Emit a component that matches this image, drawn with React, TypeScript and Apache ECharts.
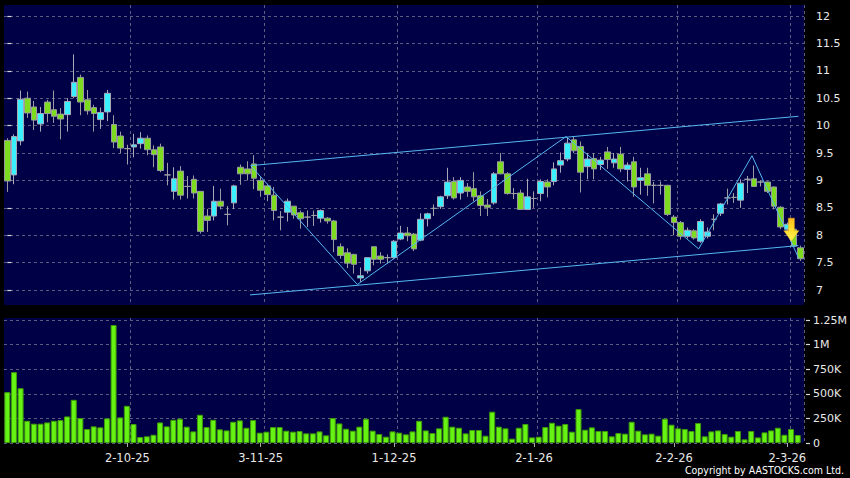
import React, { useEffect, useRef } from "react";
import * as echarts from "echarts";

const dates = [
  "5-9-25","8-9-25","9-9-25","10-9-25","11-9-25","12-9-25","15-9-25","16-9-25","17-9-25","18-9-25",
  "19-9-25","22-9-25","23-9-25","24-9-25","25-9-25","26-9-25","29-9-25","30-9-25",
  "2-10-25","3-10-25","6-10-25","8-10-25","9-10-25","10-10-25","13-10-25","14-10-25","15-10-25","16-10-25",
  "17-10-25","20-10-25","21-10-25","22-10-25","23-10-25","24-10-25","27-10-25","28-10-25","30-10-25","31-10-25",
  "3-11-25","4-11-25","5-11-25","6-11-25","7-11-25","10-11-25","11-11-25","12-11-25","13-11-25","14-11-25",
  "17-11-25","18-11-25","19-11-25","20-11-25","21-11-25","24-11-25","25-11-25","26-11-25","27-11-25","28-11-25",
  "1-12-25","2-12-25","3-12-25","4-12-25","5-12-25","8-12-25","9-12-25","10-12-25","11-12-25","12-12-25",
  "15-12-25","16-12-25","17-12-25","18-12-25","19-12-25","22-12-25","23-12-25","24-12-25","29-12-25","30-12-25","31-12-25",
  "2-1-26","5-1-26","6-1-26","7-1-26","8-1-26","9-1-26","12-1-26","13-1-26","14-1-26","15-1-26",
  "16-1-26","19-1-26","20-1-26","21-1-26","22-1-26","23-1-26","26-1-26","27-1-26","28-1-26","29-1-26","30-1-26",
  "2-2-26","3-2-26","4-2-26","5-2-26","6-2-26","9-2-26","10-2-26","11-2-26","12-2-26","13-2-26",
  "16-2-26","20-2-26","23-2-26","24-2-26","25-2-26","26-2-26","27-2-26",
  "2-3-26","3-3-26","4-3-26"
];

const opens = [
  9.73,9.10,9.72,10.50,10.34,10.03,10.43,10.29,10.21,10.20,
  10.53,10.88,10.47,10.33,10.11,10.25,10.02,9.81,9.58,9.61,
  9.67,9.77,9.56,9.61,9.10,8.80,9.17,8.89,9.02,8.80,
  8.35,8.35,8.62,8.38,8.59,9.24,9.21,9.30,9.00,8.90,
  8.73,8.33,8.42,8.53,8.41,8.33,8.36,8.31,8.31,8.26,
  7.79,7.68,7.65,7.22,7.35,7.79,7.62,7.59,7.59,7.93,
  8.04,8.02,7.91,8.30,8.49,8.52,8.72,8.98,8.77,8.88,
  8.85,8.72,8.55,8.59,9.34,9.12,8.76,8.77,8.47,8.67,
  8.76,8.97,8.98,9.28,9.39,9.74,9.62,9.25,9.40,9.29,
  9.52,9.32,9.48,9.20,9.34,9.00,9.12,8.91,8.91,8.91,
  8.33,8.23,7.98,8.08,7.89,7.98,8.29,8.40,8.68,8.69,
  8.64,9.02,9.03,8.97,8.97,8.88,8.51,8.11,8.11,7.77
];
const closes = [
  8.99,9.80,10.48,10.23,10.10,10.22,10.22,10.17,10.12,10.44,
  10.79,10.43,10.27,10.22,10.24,10.59,9.70,9.59,9.58,9.65,
  9.77,9.56,9.47,9.18,9.10,9.03,8.73,8.89,8.77,8.07,
  8.27,8.62,8.53,8.38,8.90,9.12,9.12,9.04,8.82,8.74,
  8.45,8.33,8.62,8.37,8.30,8.33,8.36,8.45,8.26,7.92,
  7.63,7.49,7.47,7.26,7.59,7.56,7.56,7.59,7.89,8.04,
  7.99,7.75,8.29,8.39,8.49,8.70,8.97,8.68,9.00,8.80,
  8.70,8.54,8.51,9.12,9.12,8.76,8.76,8.47,8.70,8.67,
  8.98,8.88,9.21,9.36,9.68,9.54,9.15,9.39,9.21,9.37,
  9.38,9.39,9.21,9.28,8.88,9.05,8.91,8.91,8.91,8.38,
  8.23,7.98,8.09,7.95,8.25,8.06,8.29,8.57,8.68,8.69,
  8.95,9.02,8.89,8.97,8.80,8.53,8.15,8.20,7.80,7.57
];
const lows = [
  8.79,8.93,9.64,10.14,9.92,9.89,10.06,10.05,9.75,9.89,
  10.50,10.19,10.20,9.89,9.94,10.08,9.59,9.50,9.29,9.42,
  9.58,9.46,9.24,9.15,8.91,8.65,8.65,8.67,8.67,8.03,
  8.06,8.27,8.47,8.18,8.48,8.92,9.00,8.84,8.70,8.62,
  8.27,8.09,8.25,8.30,8.12,8.15,8.17,8.23,8.21,7.69,
  7.57,7.40,7.30,7.15,7.30,7.45,7.48,7.48,7.57,7.91,
  7.89,7.71,7.89,8.16,8.35,8.48,8.66,8.65,8.65,8.70,
  8.62,8.35,8.35,8.56,9.11,8.74,8.66,8.46,8.46,8.50,
  8.62,8.69,8.91,9.14,9.35,9.50,8.78,9.02,9.02,9.19,
  9.21,9.23,9.15,8.98,8.70,8.74,8.72,8.58,8.74,8.35,
  8.00,7.92,7.94,7.92,7.86,7.94,8.09,8.35,8.56,8.59,
  8.50,8.77,8.89,8.89,8.77,8.47,8.11,8.08,7.78,7.53
];
const highs = [
  9.77,9.84,10.64,10.62,10.45,10.34,10.47,10.64,10.32,10.50,
  11.30,10.93,10.65,10.38,10.33,10.65,10.19,9.89,9.65,9.85,
  9.88,9.82,9.64,9.67,9.32,9.24,9.26,9.08,9.09,8.80,
  8.48,8.90,8.85,8.53,8.92,9.29,9.35,9.46,9.06,8.94,
  8.88,8.44,8.67,8.53,8.45,8.45,8.45,8.47,8.33,8.28,
  7.85,7.76,7.66,7.41,7.60,7.80,7.69,7.65,7.91,8.17,
  8.15,8.04,8.40,8.41,8.56,8.72,9.23,9.06,9.06,8.95,
  9.15,8.80,8.66,9.15,9.50,9.15,8.86,8.83,9.03,8.80,
  9.02,9.02,9.33,9.51,9.78,9.81,9.71,9.50,9.50,9.43,
  9.61,9.50,9.61,9.33,9.43,9.23,9.23,8.97,8.98,8.92,
  8.37,8.26,8.14,8.11,8.29,8.14,8.38,8.59,8.85,8.77,
  9.02,9.08,9.27,9.00,8.98,8.89,8.53,8.23,8.13,7.81
];
const volumes = [
  517000,720000,557000,226000,196000,196000,209000,226000,233000,270000,
  439000,253000,142000,169000,159000,250000,1199000,260000,378000,193000,
  61000,68000,84000,209000,169000,236000,247000,166000,118000,287000,
  162000,236000,139000,128000,216000,230000,155000,233000,105000,115000,
  162000,162000,125000,115000,122000,98000,98000,118000,78000,253000,
  199000,145000,125000,166000,247000,125000,91000,64000,118000,105000,
  88000,118000,226000,128000,101000,149000,267000,166000,155000,98000,
  132000,132000,74000,318000,166000,149000,44000,155000,193000,57000,
  64000,162000,206000,176000,193000,115000,345000,135000,159000,122000,
  122000,68000,101000,95000,216000,125000,88000,95000,74000,247000,
  186000,149000,142000,122000,203000,68000,118000,128000,91000,64000,
  122000,37000,122000,57000,108000,128000,155000,84000,142000,81000
];

const labelDates = ["2-10-25", "3-11-25", "1-12-25", "2-1-26", "2-2-26", "2-3-26"];

// trend lines: [candle position, price]
const upperChannel = [[36.5, 9.27], [118.65, 10.17]];
const lowerChannel = [[36.4, 6.91], [118.65, 7.81]];
const zigzag = [[36.5, 9.27], [52.5, 7.1], [83.8, 9.8], [103.7, 7.75], [111.7, 9.45], [118.7, 7.58]];
const arrowPoint = [[117.6, 8.1]];

const NAVY = "#000046";
const GRIDC = "#5c5c80";
const LINEC = "#55b8f0";
const FONT = "DejaVu Sans";

export default function App() {
  const ref = useRef<HTMLDivElement>(null);
  useEffect(() => {
    document.body.style.margin = "0";
    document.body.style.background = "#000";
    const chart = echarts.init(ref.current!, null, { renderer: "svg" });
    const labelIdx = labelDates.map((d) => dates.indexOf(d));
    const isLabel = (i: number) => labelIdx.indexOf(i) >= 0;
    const isSplit = (i: number) => labelIdx.indexOf(i - 1) >= 0;
    const candleData = opens.map((o, i) => [o, closes[i], lows[i], highs[i]]);
    const volFmt = (v: number) =>
      v === 0 ? "0" : v >= 1000000 ? v / 1000000 + "M" : v / 1000 + "K";

    const splitStyle = { color: GRIDC, type: [3, 3] as any, width: 1 };
    const labelStyle = { color: "#e8e8e8", fontSize: 11, fontFamily: FONT };
    const tickStyle = { show: true, inside: false, length: 4, lineStyle: { color: "#d8d8d8", width: 1.2 } };

    chart.setOption({
      animation: false,
      backgroundColor: "#000",
      textStyle: { fontFamily: FONT },
      grid: [
        { left: 4, top: 5, width: 800, height: 300, show: true, backgroundColor: NAVY, borderWidth: 0 },
        { left: 4, top: 318, width: 800, height: 125, show: true, backgroundColor: NAVY, borderWidth: 0 },
        { left: 4, top: 16, width: 800, height: 274 },
        { left: 4, top: 320, width: 800, height: 123 },
      ],
      xAxis: [
        {
          type: "category", gridIndex: 0, data: dates, boundaryGap: true,
          axisLine: { show: false }, axisTick: { show: false }, axisLabel: { show: false },
          splitLine: { show: true, interval: isSplit, lineStyle: splitStyle },
        },
        {
          type: "category", gridIndex: 1, data: dates, boundaryGap: true,
          axisLine: { show: false },
          axisTick: { show: true, interval: isLabel, alignWithLabel: true, length: 4, lineStyle: { color: "#aaaaaa" } },
          axisLabel: { show: true, interval: isLabel, margin: 9, ...labelStyle, fontSize: 11.5 },
          splitLine: { show: true, interval: isSplit, lineStyle: splitStyle },
        },
        { type: "category", gridIndex: 2, data: dates, show: false },
        { type: "category", gridIndex: 3, data: dates, show: false },
        { type: "value", gridIndex: 2, min: -0.5, max: 119.5, show: false },
      ],
      yAxis: [
        { type: "value", gridIndex: 0, min: 0, max: 1, show: false },
        { type: "value", gridIndex: 1, min: 0, max: 1, show: false },
        {
          type: "value", gridIndex: 2, position: "right", min: 7, max: 12, interval: 0.5, offset: 5,
          axisLine: { show: false },
          axisTick: tickStyle,
          axisLabel: { margin: 7, ...labelStyle },
          splitLine: { show: true, lineStyle: splitStyle },
        },
        {
          type: "value", gridIndex: 3, position: "right", min: 0, max: 1250000, interval: 250000, offset: 5,
          axisLine: { show: false },
          axisTick: tickStyle,
          axisLabel: { margin: 7, formatter: volFmt, ...labelStyle },
          splitLine: { show: true, lineStyle: splitStyle },
        },
      ],
      series: [
        {
          type: "candlestick", xAxisIndex: 2, yAxisIndex: 2, data: candleData, barWidth: 6,
          itemStyle: {
            color: "#3af0ff", color0: "#7ddc1f",
            borderColor: "#a8a8b8", borderColor0: "#9a9aa0", borderColorDoji: "#a0a0a8", borderWidth: 1,
          },
        },
        {
          type: "bar", xAxisIndex: 3, yAxisIndex: 3, data: volumes, barWidth: 6,
          itemStyle: { color: "#66f213", borderColor: "#3f9a08", borderWidth: 1 },
        },
        {
          type: "line", xAxisIndex: 4, yAxisIndex: 2, data: upperChannel, symbol: "none", clip: false, silent: true,
          lineStyle: { color: LINEC, width: 1 },
        },
        {
          type: "line", xAxisIndex: 4, yAxisIndex: 2, data: lowerChannel, symbol: "none", clip: false, silent: true,
          lineStyle: { color: LINEC, width: 1 },
        },
        {
          type: "line", xAxisIndex: 4, yAxisIndex: 2, data: zigzag, symbol: "none", clip: false, silent: true,
          lineStyle: { color: LINEC, width: 1 },
        },
        {
          type: "scatter", xAxisIndex: 4, yAxisIndex: 2, data: arrowPoint, silent: true, z: 10,
          symbol: "path://M4.5,0 L10.5,0 L10.5,12.5 L15,12.5 L7.5,23 L0,12.5 L4.5,12.5 Z",
          symbolSize: [15, 23],
          itemStyle: {
            opacity: 1,
            color: new echarts.graphic.LinearGradient(0, 0, 0, 1, [
              { offset: 0, color: "#ffb820" },
              { offset: 0.45, color: "#ffdc28" },
              { offset: 1, color: "#fff35a" },
            ]),
            borderColor: "#f0b018", borderWidth: 0.5,
          },
        },
      ],
      graphic: [
        {
          type: "text", right: 6, top: 464,
          style: { text: "Copyright by AASTOCKS.com Ltd.", fill: "#ffffff", font: "10.5px 'DejaVu Sans Condensed', 'DejaVu Sans'" },
        },
      ],
    });
    return () => chart.dispose();
  }, []);
  return <div ref={ref} style={{ width: 850, height: 478, background: "#000" }} />;
}
